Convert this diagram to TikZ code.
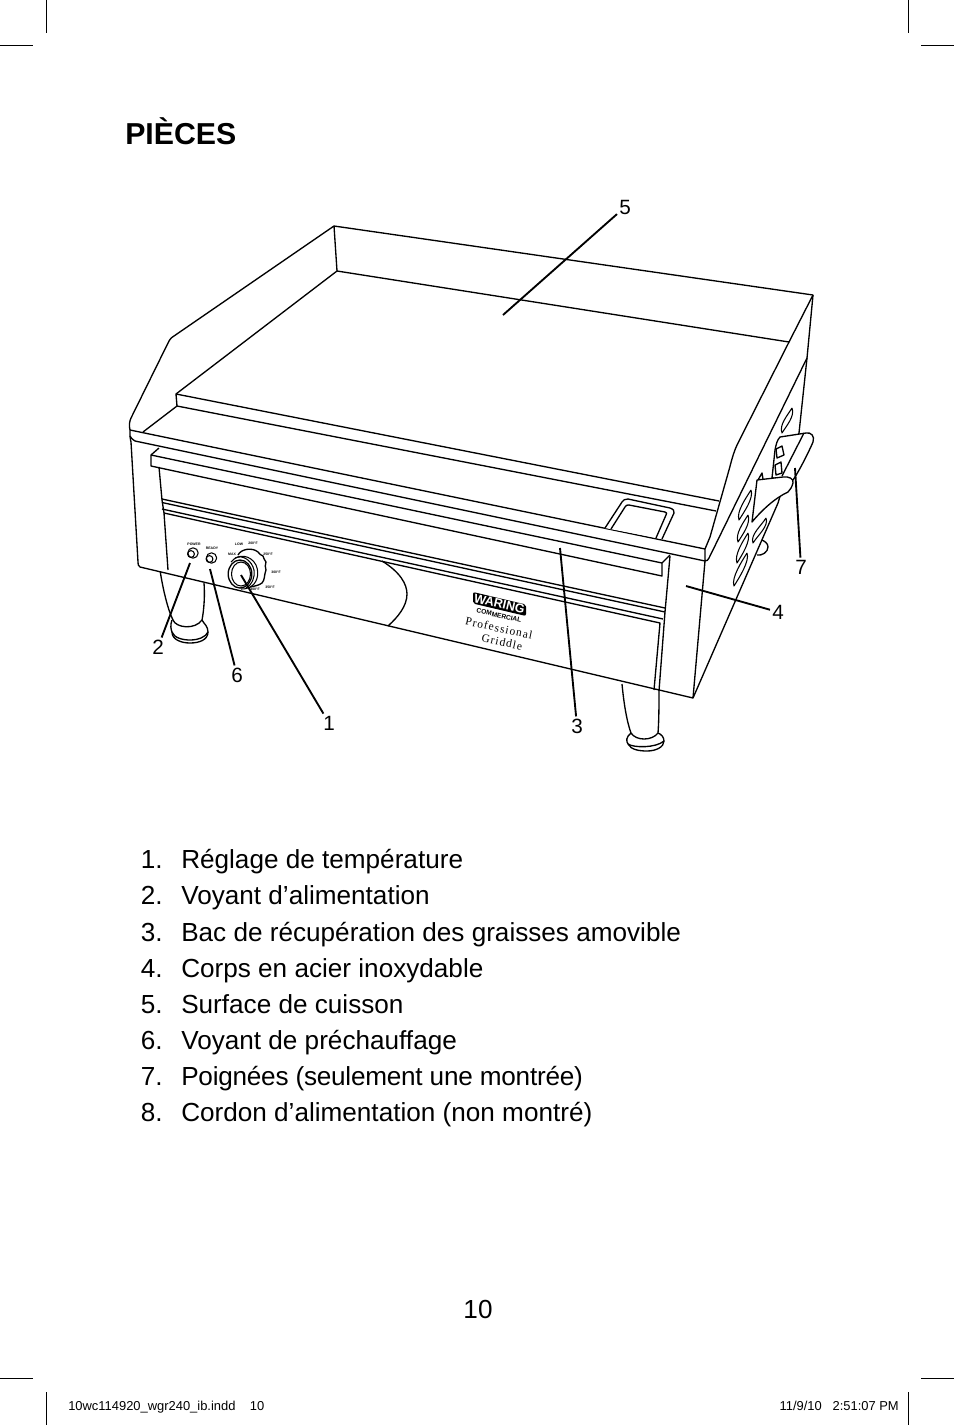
\documentclass[tikz,border=0pt]{standalone}
\usepackage{xcolor}
\usepackage{fontspec}
\setmainfont{Liberation Sans}
\newfontfamily\griddlefont[LetterSpace=9]{Liberation Serif}
\usetikzlibrary{positioning,calc}

\tikzset{
  outline/.style={line width=1pt,line join=round},
  thinline/.style={line width=0.8pt,line join=round},
  callout/.style={line width=1.4pt},
  crop/.style={line width=0.5pt},
  num/.style={font=\fontsize{15.5}{15.5}\selectfont,inner sep=1.5pt},
  listnum/.style={anchor=base east,font=\fontsize{19.6}{24}\selectfont,inner sep=0pt},
  listtxt/.style={anchor=base west,font=\fontsize{19.6}{24}\selectfont,inner sep=0pt},
  slug/.style={font=\fontsize{9.7}{12}\selectfont,inner sep=0pt},
  tiny/.style={font=\fontsize{2.6}{3}\bfseries\selectfont,inner sep=0pt}
}

\begin{document}
\begin{tikzpicture}[x=0.75pt,y=-0.75pt]
  \useasboundingbox (0,0) rectangle (954,1425);
  % Crop marks
  \foreach \xa/\xb in {0/33,921/954}{
    \draw[crop] (\xa,45)--(\xb,45);
    \draw[crop] (\xa,1378)--(\xb,1378);
  }
  \foreach \xa in {46,908}{
    \draw[crop] (\xa,0)--(\xa,33);
    \draw[crop] (\xa,1392)--(\xa,1425);
  }
  % Title
  \node[anchor=base west,inner sep=0pt,font=\fontsize{22.7}{28}\bfseries\selectfont] (title) at (125,144) {PIÈCES};

  % Feet behind the body
  \draw[outline,fill=white] (172,620) .. controls (170,625) and (171,630) .. (172,632) .. controls (172,640) and (182,643) .. (190,643) .. controls (199,643) and (208,640) .. (208,632) .. controls (208,626) and (204,624) .. (202,620);
  \draw[outline] (172,632) .. controls (174,638) and (183,640) .. (190,640) .. controls (198,640) and (206,637) .. (208,632);
  \draw[outline] (160,570) .. controls (163,590) and (168,610) .. (173,620) .. controls (176,628) and (195,630) .. (202,620) .. controls (204,610) and (205,595) .. (204,583);
  \draw[outline,fill=white] (622,684) .. controls (624,705) and (627,722) .. (631,733) .. controls (626,737) and (626,741) .. (628,744) .. controls (631,750) and (640,751) .. (647,751) .. controls (656,751) and (664,747) .. (664,741) .. controls (664,737) and (661,734) .. (658,733) .. controls (659,720) and (659,705) .. (659,690);
  \draw[outline] (631,733) .. controls (636,741) and (652,741) .. (658,733);
  \draw[outline] (628,744) .. controls (634,748) and (656,748) .. (664,741);
  \draw[outline,fill=white] (757,555) .. controls (762,556) and (768,552) .. (768,547) .. controls (768,543) and (764,541) .. (762,540);

  % Griddle top, walls and rim
  \draw[outline,fill=white] (130,430) .. controls (129,426) and (129,421) .. (132,416) -- (169,341) .. controls (171,338) and (172,337) .. (174,336) -- (334,226) -- (813,295) -- (807,358) -- (799,433) -- (778,503) -- (693,698) -- (140,567) .. controls (138,566) and (138,564) .. (138,562) -- (131,442) .. controls (131,441) and (130,439) .. (130,436) -- cycle;
  \draw[outline] (334,226)--(337,271)--(789,342)--(813,295);
  \draw[outline] (337,271)--(176,394)--(177,406)--(143,432);
  \draw[outline] (176,394)--(719,501);
  \draw[outline] (177,406)--(716,511);
  \draw[outline] (789,342)--(738,443) .. controls (733,453) and (731,463) .. (729,470) -- (710,537)--(705,549);
  \draw[outline] (130,430)--(705,549)--(705,561) .. controls (707,561) and (708,560) .. (709,558) -- (807,358);
  \draw[outline] (130,436) .. controls (131,438) and (132,439) .. (135,441) -- (705,561);
  % Right edge of the front and the grease cup
  \draw[outline] (705,561)--(693,698);
  \draw[outline,fill=white] (605,528)--(622,502) .. controls (623,500) and (625,499) .. (628,499) -- (670,508) .. controls (673,509) and (675,511) .. (674,513) -- (662,539);
  \draw[outline] (611,529)--(625,507) .. controls (626,505) and (627,505) .. (629,505) -- (665,512) .. controls (667,512) and (667,514) .. (666,515) -- (656,538);
  % Removable tray
  \draw[outline,fill=white] (159,448)--(151,455)--(151,466)--(662,576)--(662,563)--(670,555);
  \draw[outline] (151,455)--(662,563);
  % Front panel
  \draw[outline] (159,467)--(162,500)--(164,513)--(168,570);
  \draw[outline] (162,499)--(665,608);
  \draw[outline] (162,502.5)--(665,612);
  \draw[outline] (162,509)--(663,619);
  \draw[outline] (164,513)--(660,623)--(654,690);
  \draw[outline] (670,556)--(665,612)--(659,691);
  \draw[outline] (382,561) .. controls (400,572) and (407,584) .. (407,594) .. controls (407,606) and (398,617) .. (388,626);

  % Indicator lights
  \draw[thinline] (193,553) circle (5.2);
  \draw[thinline] (191,554) circle (3.4);
  \draw[thinline] (211.5,558) circle (5.2);
  \draw[thinline] (209.5,559) circle (3.4);
  \node[tiny] (lblpower) at (194,544) {POWER};
  \node[tiny] (lblready) at (212,548.5) {READY};
  % Temperature dial
  \draw[outline] (238,555) .. controls (241,549) and (252,547) .. (258,552) .. controls (259,554) and (261,555) .. (263,556) .. controls (263,558) and (265,560) .. (266,562) .. controls (265,565) and (265,567) .. (266,570) .. controls (264,575) and (265,580) .. (262,583) .. controls (258,586) and (254,586) .. (250,587);
  \draw[thinline] (231,562) .. controls (238,553) and (251,555) .. (256,565) .. controls (260,574) and (257,585) .. (248,588) .. controls (246,589) and (243,589) .. (241,589);
  \draw[thinline] (235,558) .. controls (243,554) and (252,561) .. (254,570) .. controls (255,578) and (252,585) .. (246,588);
  \draw[outline] (240,574) ellipse (11.8 and 14);
  \draw[thinline] (241,574) ellipse (9.5 and 12);
  \node[tiny] (lbllow) at (239,544.5) {LOW};
  \node[tiny] (lbla) at (253,543) {200°F};
  \node[tiny] (lblb) at (268,554) {250°F};
  \node[tiny] (lblc) at (276,572) {300°F};
  \node[tiny] (lbld) at (270,587.5) {350°F};
  \node[tiny] (lble) at (255,589) {400°F};
  \node[tiny] (lblf) at (232,554) {MAX};

  % Logo
  \fill[rounded corners=1.5pt] (473,592)--(526,604.5)--(526,616)--(473,603.5)--cycle;
  \node[rotate=-13,text=white,inner sep=0pt,font=\fontsize{9.4}{9}\bfseries\selectfont] (logo) at (499.5,604) {WARING};
  \node[rotate=-13,inner sep=0pt,font=\fontsize{5}{5}\bfseries\selectfont] (logosub) at (499,615.5) {COMMERCIAL};
  \node[rotate=-12,inner sep=0pt,font=\griddlefont\fontsize{8.6}{9}\selectfont] (prof) at (499,628) {Professional};
  \node[rotate=-12,inner sep=0pt,font=\griddlefont\fontsize{8.6}{9}\selectfont] (grid) at (502,642) {Griddle};

  % Side vents
  \foreach \ax/\ay/\bx/\by in {792/408/782/433,751/490/739/520,748/515/738/542,748/533/737/563,747/553/734/586,766/518/753/543}{
    \draw[thinline,fill=white] (\ax,\ay) .. controls (\ax+3,\ay+8) and (\bx+5,\by-8) .. (\bx,\by) .. controls (\bx-3,\by-8) and (\ax-5,\ay+8) .. (\ax,\ay);
  }
  % Handle, rear part
  \draw[outline,fill=white] (780,437)--(806,433) .. controls (811,432) and (815,436) .. (813,442) .. controls (811,447) and (800,470) .. (793,480)--(772,478)--(775,450) .. controls (776,445) and (777,440) .. (780,437)--cycle;
  \draw[outline] (804,433)--(782,476);
  \draw[outline] (776,449)--(782,446)--(784,455)--(777,458)--cycle;
  \draw[outline] (775,465)--(781,462)--(782,473)--(776,475)--cycle;
  % Handle, front part
  \draw[outline] (758,480)--(762,473)--(763,479);
  \draw[outline,fill=white] (757,480)--(783,477) .. controls (789,476) and (794,479) .. (793,483) .. controls (792,487) and (790,490) .. (788,492) .. controls (775,498) and (762,510) .. (752,522)--cycle;

  % Callouts
  \node[num] (num5) at (625,207) {5};
  \node[num] (num1) at (329,723) {1};
  \node[num] (num2) at (158,647) {2};
  \node[num] (num6) at (237,675) {6};
  \node[num] (num3) at (577,726) {3};
  \node[num] (num4) at (778,612) {4};
  \node[num] (num7) at (801,567) {7};
  \coordinate (tip5) at (503,315);
  \coordinate (tip1) at (241,575);
  \coordinate (tip2) at (190,563);
  \coordinate (tip6) at (210,569);
  \coordinate (tip3) at (560,548);
  \coordinate (tip4) at (686,586);
  \coordinate (tip7) at (795,468);
  \foreach \n in {1,...,7}{
    \draw[callout] (num\n) -- (tip\n);
  }

  % Parts list
  \foreach \n/\yy/\txt in {1/868/Réglage de température,
      2/904/Voyant d’alimentation,
      3/941/Bac de récupération des graisses amovible,
      4/977/Corps en acier inoxydable,
      5/1013/Surface de cuisson,
      6/1049/Voyant de préchauffage,
      7/1085/\addfontfeatures{LetterSpace=-0.9}Poignées (seulement une montrée),
      8/1121/Cordon d’alimentation (non montré)}{
    \node[listnum] (item\n) at (163,\yy) {\n.};
    \node[listtxt] (text\n) at (181,\yy) {\txt};
  }
  % Page number and slug
  \node[anchor=base,inner sep=0pt,font=\fontsize{19.6}{24}\selectfont] (page) at (478,1318) {10};
  \node[slug,anchor=base west] (slugl) at (68,1410) {10wc114920\_wgr240\_ib.indd\ \ \ \ 10};
  \node[slug,anchor=base east] (slugr) at (899,1410) {11/9/10\ \ \ 2:51:07 PM};
\end{tikzpicture}
\end{document}
